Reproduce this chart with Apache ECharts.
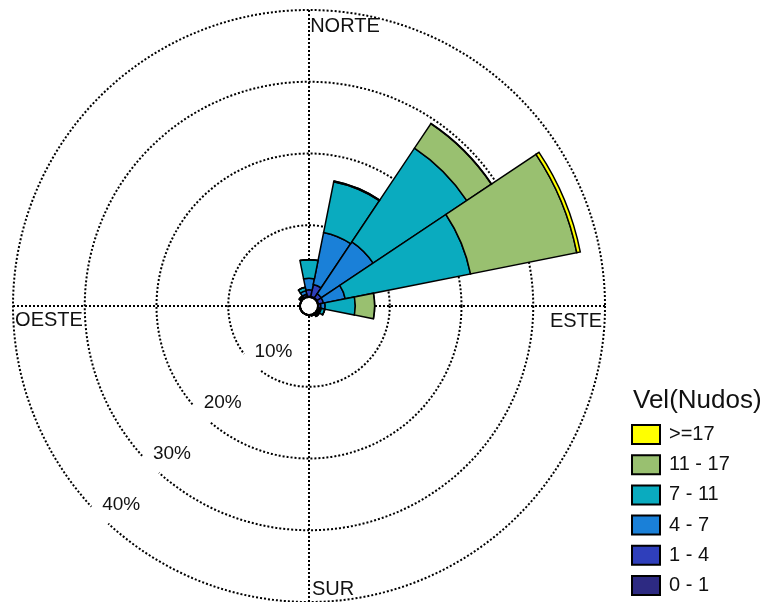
<!DOCTYPE html>
<html>
<head>
<meta charset="utf-8">
<script src="https://cdn.jsdelivr.net/npm/echarts@6/dist/echarts.min.js"></script>
<style>
html,body{margin:0;padding:0;background:#fff;}
#chart{width:769px;height:602px;}
</style>
</head>
<body>
<div id="chart"></div>
<script>
// Directions (16 sectors, clockwise from north)
const directions = ['N','NNE','NE','ENE','E','ESE','SE','SSE','S','SSW','SW','WSW','W','WNW','NW','NNW'];
// Speed bins (knots) and frequency (%) per direction, stacked from centre outwards
const binNames = ['0 - 1','1 - 4','4 - 7','7 - 11','11 - 17','>=17'];
const bin0_1   = [0.1, 0.1, 0.1, 0.1, 0.1, 0.1, 0.1, 0.05, 0.05, 0, 0, 0, 0, 0, 0.1, 0.1];
const bin1_4   = [0.9, 1.7, 0.7, 0.7, 0.3, 0.2, 0.2, 0.1, 0, 0, 0, 0, 0, 0, 0.2, 0.3];
const bin4_7   = [1.6, 7.4, 8.7, 3.1, 0.6, 0.2, 0.1, 0, 0, 0, 0, 0, 0, 0, 0.1, 0.5];
const bin7_11  = [2.6, 7.2, 15.7, 17.8, 4.2, 0.5, 0.1, 0, 0, 0, 0, 0, 0, 0, 0, 0.5];
const bin11_17 = [0, 0.1, 4.1, 15.1, 2.7, 0, 0, 0, 0, 0, 0, 0, 0, 0, 0, 0];
const bin17up  = [0, 0, 0.05, 0.5, 0, 0, 0, 0, 0, 0, 0, 0, 0, 0, 0, 0];
const binColors = ['#2d2a82', '#2f3fbb', '#1a80d8', '#0aabbf', '#99c070', '#ffff00'];
// Radial ticks (%) and compass labels
const ringTicks = [10, 20, 30, 40];
const compassLabels = ['NORTE', 'ESTE', 'SUR', 'OESTE'];
const compassAngles = [0, 90, 180, 270];

const binData = [bin0_1, bin1_4, bin4_7, bin7_11, bin11_17, bin17up];
const FONT = "'Liberation Sans', Arial, sans-serif";
const CENTER = [309, 306];
const TEXT = '#111';
const dotted = {color: '#000', width: 2, type: [2, 2]};

const series = binData.map((d, i) => ({
  name: binNames[i],
  type: 'bar',
  coordinateSystem: 'polar',
  polarIndex: 1,
  stack: 'wind',
  barCategoryGap: '0%',
  data: d,
  itemStyle: {color: binColors[i], borderColor: '#000', borderWidth: 1.5},
  emphasis: {disabled: true},
  z: 3
}));

series.push({
  type: 'scatter',
  coordinateSystem: 'polar',
  polarIndex: 0,
  data: ringTicks.map(v => [v, 225]),
  symbol: 'circle',
  symbolSize: 24,
  itemStyle: {color: '#fff', opacity: 1},
  silent: true,
  z: 2,
  label: {
    show: true, position: 'inside', offset: [21.5, -11],
    formatter: p => p.value[0] + '%',
    fontFamily: FONT, fontSize: 19, color: TEXT, opacity: 1
  }
});

const compassOffsets = [[36, 16], [-29, 15], [24, -13], [36, 14.5]];
series.push({
  type: 'scatter',
  coordinateSystem: 'polar',
  polarIndex: 0,
  symbolSize: 0,
  silent: true,
  z: 4,
  itemStyle: {opacity: 1},
  data: compassLabels.map((t, i) => ({
    value: [ringTicks[ringTicks.length - 1], compassAngles[i]],
    label: {
      show: true, position: 'inside', offset: compassOffsets[i],
      formatter: t, fontFamily: FONT, fontSize: 20, color: TEXT, opacity: 1
    }
  }))
});

const chart = echarts.init(document.getElementById('chart'));
chart.setOption({
  animation: false,
  backgroundColor: '#fff',
  title: {
    text: 'Vel(Nudos)', left: 628, top: 383,
    textStyle: {fontFamily: FONT, fontSize: 26, fontWeight: 'normal', color: TEXT}
  },
  legend: {
    orient: 'vertical', left: 631, top: 424, padding: 0, height: 200,
    data: binNames.slice().reverse(),
    itemWidth: 28, itemHeight: 19, itemGap: 9.2,
    icon: 'rect',
    selectedMode: false,
    textStyle: {fontFamily: FONT, fontSize: 20, color: TEXT, padding: [0, 0, 0, 4]}
  },
  polar: [
    {center: CENTER, radius: [9, 296]},
    {center: CENTER, radius: [9, 296]},
    {center: CENTER, radius: [0, 9]}
  ],
  angleAxis: [
    {polarIndex: 0, type: 'value', min: 0, max: 360, interval: 90, startAngle: 90, clockwise: true,
     axisLine: {show: false}, axisTick: {show: false}, axisLabel: {show: false},
     splitLine: {show: true, lineStyle: dotted}},
    {polarIndex: 1, type: 'category', data: directions, startAngle: 101.25, clockwise: true,
     boundaryGap: true,
     axisLine: {show: false}, axisTick: {show: false}, axisLabel: {show: false}, splitLine: {show: false}},
    {polarIndex: 2, type: 'value', min: 0, max: 360, startAngle: 90,
     axisLine: {show: true, lineStyle: {color: '#000', width: 2}}, axisTick: {show: false},
     axisLabel: {show: false}, splitLine: {show: false}}
  ],
  radiusAxis: [
    {polarIndex: 0, type: 'value', min: 0, max: 40, interval: 10,
     axisLine: {show: false}, axisTick: {show: false}, axisLabel: {show: false},
     splitLine: {show: true, lineStyle: dotted}},
    {polarIndex: 1, type: 'value', min: 0, max: 40,
     axisLine: {show: false}, axisTick: {show: false}, axisLabel: {show: false}, splitLine: {show: false}},
    {polarIndex: 2, type: 'value', min: 0, max: 1,
     axisLine: {show: false}, axisTick: {show: false}, axisLabel: {show: false}, splitLine: {show: false}}
  ],
  series: series
});
</script>
</body>
</html>
